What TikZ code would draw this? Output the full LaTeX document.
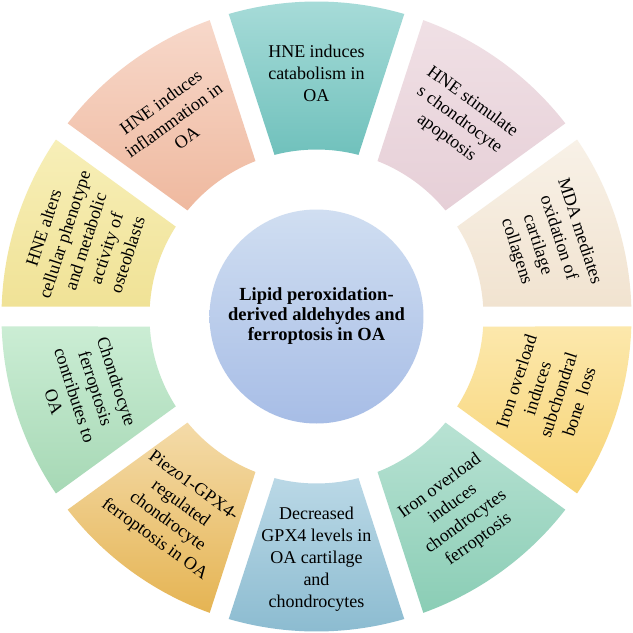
\documentclass[tikz,border=0pt]{standalone}
\usepackage{fontspec}
\setmainfont{Liberation Serif}
\definecolor{tealT}{HTML}{A8DCD9}\definecolor{tealB}{HTML}{70C1BC}
\definecolor{pinkT}{HTML}{F0E0E5}\definecolor{pinkB}{HTML}{E6CFD7}
\definecolor{creamT}{HTML}{F8F1E7}\definecolor{creamB}{HTML}{F1E3D0}
\definecolor{yelT}{HTML}{FCE8AC}\definecolor{yelB}{HTML}{F7D374}
\definecolor{grnT}{HTML}{B8E2D3}\definecolor{grnB}{HTML}{8ACDB5}
\definecolor{bluT}{HTML}{BAD8E6}\definecolor{bluB}{HTML}{8BBBD0}
\definecolor{orT}{HTML}{F4DBA9}\definecolor{orB}{HTML}{E5B453}
\definecolor{lgT}{HTML}{CBEDD4}\definecolor{lgB}{HTML}{A6D8B5}
\definecolor{ylT}{HTML}{F7EFB8}\definecolor{ylB}{HTML}{F0E296}
\definecolor{salT}{HTML}{F7D8CA}\definecolor{salB}{HTML}{EFB99F}
\definecolor{ctrT}{HTML}{D0DEF1}\definecolor{ctrB}{HTML}{A7BDE6}
\newcommand\Ro{315}
\newcommand\Ri{167}
\newcommand\gp{10}
\newcommand\mysegment[6]{%
  \pgfmathsetmacro\ao{asin(\gp/\Ro)}%
  \pgfmathsetmacro\ai{asin(\gp/\Ri)}%
  \pgfmathsetmacro\sa{#1+18-\ao}%
  \pgfmathsetmacro\ea{#1-18+\ao}%
  \pgfmathsetmacro\sb{#1-18+\ai}%
  \pgfmathsetmacro\eb{#1+18-\ai}%
  \shade[top color=#2, bottom color=#3] (\sa:\Ro) arc[start angle=\sa, end angle=\ea, radius=\Ro] -- (\sb:\Ri) arc[start angle=\sb, end angle=\eb, radius=\Ri] -- cycle;
  \node[seglabel, rotate=#4] (#6) at (#1:243) {#5};%
}
\begin{document}
\begin{tikzpicture}[x=1pt,y=1pt,
  seglabel/.style={align=center, font=\fontsize{18}{22}\selectfont, inner sep=0pt, text=black},
  hub/.style={circle, minimum size=214pt, inner sep=0pt, top color=ctrT, bottom color=ctrB, align=center, font=\bfseries\fontsize{18.5}{20}\selectfont}]
\useasboundingbox (-316.5,-316.5) rectangle (316.5,316.5);
\fill[white] (-316.5,-316.5) rectangle (316.5,316.5);
\mysegment{90}{tealT}{tealB}{0}{HNE induces\\catabolism in\\OA}{s1}
\mysegment{54}{pinkT}{pinkB}{-36}{HNE stimulate\\s chondrocyte\\apoptosis}{s2}
\mysegment{18}{creamT}{creamB}{-72}{MDA mediates\\oxidation of\\cartilage\\collagens}{s3}
\mysegment{-18}{yelT}{yelB}{72}{Iron overload\\induces\\subchondral\\bone~ loss}{s4}
\mysegment{-54}{grnT}{grnB}{36}{Iron overload\\induces\\chondrocytes\\ferroptosis}{s5}
\mysegment{-90}{bluT}{bluB}{0}{Decreased\\GPX4 levels in\\OA cartilage\\and\\chondrocytes}{s6}
\mysegment{-126}{orT}{orB}{-36}{Piezo1-GPX4-\\regulated\\chondrocyte\\ferroptosis in OA}{s7}
\mysegment{-162}{lgT}{lgB}{-72}{Chondrocyte\\ferroptosis\\contributes to\\OA}{s8}
\mysegment{162}{ylT}{ylB}{72}{HNE alters\\cellular phenotype\\and metabolic\\activity of\\osteoblasts}{s9}
\mysegment{126}{salT}{salB}{36}{HNE induces\\inflammation in\\OA}{s10}
\node[hub] (hub) at (0,0) {Lipid peroxidation-\\derived aldehydes and\\ferroptosis in OA};
\end{tikzpicture}
\end{document}
